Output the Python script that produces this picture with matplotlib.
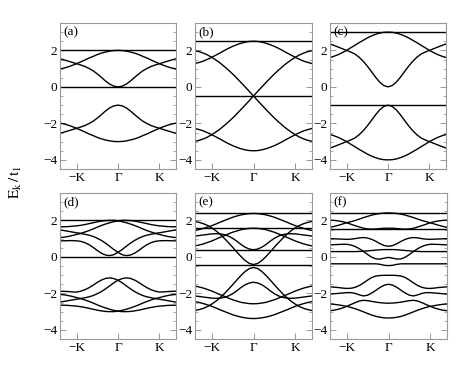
import numpy as np
import matplotlib
matplotlib.use('Agg')
import matplotlib.pyplot as plt

plt.rcParams['font.family'] = ['Liberation Serif', 'DejaVu Serif']
plt.rcParams['mathtext.fontset'] = 'stix'

# k from Gamma to the edge, in units of K (each band is drawn at +k and -k)
k_half = [0.0, 0.1, 0.2, 0.3, 0.4, 0.5, 0.6, 0.7, 0.8, 0.9, 1.0, 1.1, 1.2, 1.3, 1.4]
k_ticks = [-1, 0, 1]
k_labels = ['\u2212K', '\u0393', 'K']
panel_labels = ['(a)', '(b)', '(c)', '(d)', '(e)', '(f)']

# flat bands
a_flat = [2.0, 0.0]
b_flat = [2.5, -0.5]
c_flat = [3.0, -1.0]
d_flat = [2.0, 0.0]
e_flat = [2.38, 1.57, 0.39, -0.42]
f_flat = [2.41, 1.53]

# dispersive bands
a_bands = [
    [2.00, 1.99, 1.96, 1.91, 1.85, 1.77, 1.67, 1.58, 1.47, 1.37, 1.27, 1.18, 1.10, 1.03, 0.99],
    [0.00, 0.04, 0.15, 0.32, 0.52, 0.71, 0.88, 1.01, 1.12, 1.20, 1.27, 1.34, 1.41, 1.48, 1.54],
    [-1.00, -1.04, -1.15, -1.32, -1.52, -1.71, -1.88, -2.01, -2.12, -2.20, -2.27, -2.34, -2.41, -2.48, -2.54],
    [-3.00, -2.99, -2.96, -2.91, -2.85, -2.77, -2.67, -2.58, -2.47, -2.37, -2.27, -2.18, -2.10, -2.03, -1.99],
]
b_bands = [
    [2.50, 2.49, 2.45, 2.39, 2.31, 2.22, 2.11, 1.99, 1.86, 1.74, 1.62, 1.51, 1.41, 1.34, 1.28],
    [-0.50, -0.25, 0.00, 0.24, 0.48, 0.71, 0.92, 1.12, 1.31, 1.47, 1.62, 1.75, 1.85, 1.93, 1.98],
    [-0.50, -0.75, -1.00, -1.24, -1.48, -1.71, -1.92, -2.12, -2.31, -2.47, -2.62, -2.75, -2.85, -2.93, -2.98],
    [-3.50, -3.49, -3.45, -3.39, -3.31, -3.22, -3.11, -2.99, -2.86, -2.74, -2.62, -2.51, -2.41, -2.34, -2.28],
]
c_bands = [
    [3.00, 2.99, 2.95, 2.88, 2.79, 2.68, 2.55, 2.42, 2.28, 2.14, 2.00, 1.88, 1.77, 1.68, 1.61],
    [0.00, 0.07, 0.26, 0.53, 0.84, 1.14, 1.41, 1.63, 1.80, 1.91, 2.00, 2.09, 2.18, 2.27, 2.35],
    [-1.00, -1.07, -1.26, -1.53, -1.84, -2.14, -2.41, -2.63, -2.80, -2.91, -3.00, -3.09, -3.18, -3.27, -3.35],
    [-4.00, -3.99, -3.95, -3.88, -3.79, -3.68, -3.55, -3.42, -3.28, -3.14, -3.00, -2.88, -2.77, -2.68, -2.61],
]
d_bands = [
    [1.98, 2.00, 2.00, 1.99, 1.96, 1.92, 1.87, 1.82, 1.77, 1.73, 1.70, 1.68, 1.66, 1.65, 1.65],
    [1.97, 1.93, 1.87, 1.80, 1.72, 1.63, 1.53, 1.44, 1.36, 1.29, 1.32, 1.36, 1.40, 1.44, 1.48],
    [0.25, 0.40, 0.58, 0.75, 0.90, 1.02, 1.12, 1.19, 1.24, 1.28, 1.23, 1.17, 1.12, 1.08, 1.06],
    [0.25, 0.12, 0.07, 0.10, 0.20, 0.35, 0.52, 0.67, 0.78, 0.85, 0.88, 0.89, 0.89, 0.88, 0.88],
    [-1.28, -1.19, -1.15, -1.18, -1.27, -1.40, -1.55, -1.69, -1.80, -1.88, -1.93, -1.92, -1.90, -1.89, -1.88],
    [-1.28, -1.42, -1.59, -1.75, -1.90, -2.02, -2.12, -2.19, -2.24, -2.28, -2.23, -2.17, -2.12, -2.08, -2.06],
    [-2.97, -2.93, -2.87, -2.80, -2.72, -2.63, -2.53, -2.44, -2.36, -2.29, -2.32, -2.36, -2.40, -2.44, -2.48],
    [-2.98, -3.00, -3.00, -2.99, -2.96, -2.92, -2.87, -2.82, -2.77, -2.73, -2.70, -2.68, -2.66, -2.65, -2.65],
]
e_bands = [
    [2.38, 2.37, 2.34, 2.30, 2.24, 2.17, 2.08, 1.99, 1.90, 1.80, 1.71, 1.63, 1.56, 1.50, 1.45],
    [1.57, 1.56, 1.53, 1.49, 1.42, 1.35, 1.26, 1.16, 1.07, 0.97, 0.87, 0.79, 0.71, 0.65, 0.60],
    [0.39, 0.43, 0.53, 0.68, 0.86, 1.02, 1.14, 1.22, 1.26, 1.27, 1.26, 1.23, 1.20, 1.17, 1.14],
    [-0.42, -0.36, -0.20, 0.02, 0.27, 0.53, 0.78, 1.02, 1.24, 1.43, 1.59, 1.72, 1.82, 1.89, 1.94],
    [-1.39, -1.43, -1.53, -1.68, -1.86, -2.02, -2.14, -2.22, -2.26, -2.27, -2.26, -2.23, -2.20, -2.17, -2.14],
    [-0.58, -0.64, -0.80, -1.02, -1.27, -1.53, -1.78, -2.02, -2.24, -2.43, -2.59, -2.72, -2.82, -2.89, -2.94],
    [-2.57, -2.56, -2.53, -2.49, -2.42, -2.35, -2.26, -2.16, -2.07, -1.97, -1.87, -1.79, -1.71, -1.65, -1.60],
    [-3.38, -3.37, -3.34, -3.30, -3.24, -3.17, -3.08, -2.99, -2.90, -2.80, -2.71, -2.63, -2.56, -2.50, -2.45],
]
f_bands = [
    [2.41, 2.40, 2.38, 2.34, 2.29, 2.22, 2.15, 2.07, 1.99, 1.93, 1.87, 1.80, 1.73, 1.67, 1.62],
    [1.57, 1.57, 1.55, 1.53, 1.52, 1.53, 1.57, 1.64, 1.71, 1.79, 1.87, 1.93, 1.97, 2.00, 2.01],
    [0.58, 0.62, 0.72, 0.85, 0.96, 1.03, 1.06, 1.04, 1.00, 0.97, 0.96, 0.97, 0.98, 0.99, 1.00],
    [0.40, 0.40, 0.39, 0.37, 0.35, 0.33, 0.31, 0.30, 0.29, 0.29, 0.29, 0.29, 0.29, 0.29, 0.29],
    [-0.03, -0.07, -0.12, -0.11, -0.02, 0.13, 0.30, 0.45, 0.57, 0.65, 0.69, 0.69, 0.68, 0.67, 0.66],
    [-0.48, -0.46, -0.41, -0.38, -0.38, -0.38, -0.38, -0.38, -0.38, -0.38, -0.38, -0.38, -0.38, -0.38, -0.38],
    [-1.01, -1.01, -1.02, -1.05, -1.13, -1.27, -1.43, -1.57, -1.67, -1.72, -1.73, -1.71, -1.68, -1.66, -1.64],
    [-1.50, -1.55, -1.67, -1.83, -1.98, -2.10, -2.14, -2.08, -2.00, -1.96, -1.96, -1.98, -2.00, -2.02, -2.04],
    [-2.54, -2.53, -2.51, -2.48, -2.44, -2.40, -2.38, -2.42, -2.51, -2.61, -2.71, -2.80, -2.87, -2.92, -2.95],
    [-3.35, -3.34, -3.31, -3.26, -3.19, -3.10, -3.01, -2.92, -2.84, -2.77, -2.71, -2.67, -2.63, -2.60, -2.58],
]

flats = [a_flat, b_flat, c_flat, d_flat, e_flat, f_flat]
bands = [a_bands, b_bands, c_bands, d_bands, e_bands, f_bands]

# axes boxes in pixels: left, right, top, bottom
boxes = [(60, 176, 23, 169), (195, 312, 23, 169), (330, 446, 23, 169),
         (60, 176, 193, 339), (195, 312, 193, 339), (330, 447, 193, 339)]

W, H = 463, 377
fig = plt.figure(figsize=(W / 100, H / 100), dpi=100)

k = np.array(k_half)
for i in range(6):
    l, r, t, b = boxes[i]
    ax = fig.add_axes([l / W, 1 - b / H, (r - l) / W, (b - t) / H])
    for y in flats[i]:
        ax.axhline(y, color='black', lw=1.0)
    for band in bands[i]:
        e = np.array(band)
        ax.plot(np.concatenate([-k[::-1], k[1:]]), np.concatenate([e[::-1], e[1:]]),
                color='black', lw=1.0)
    ax.set_xlim(-1.4, 1.4)
    ax.set_ylim(-4.5, 3.5)
    ax.set_xticks(k_ticks)
    ax.set_xticklabels(k_labels)
    ax.set_yticks([-4, -2, 0, 2])
    ax.set_yticklabels(['\u22124', '\u22122', '0', '2'])
    ax.set_yticks(np.arange(-4.5, 3.6, 0.5), minor=True)
    ax.tick_params(which='both', direction='in', right=True, top=False, color='#888888',
                   labelsize=9.5, pad=2)
    ax.tick_params(which='major', length=4, width=0.6)
    ax.tick_params(which='minor', length=2, width=0.5)
    for s in ax.spines.values():
        s.set_color('#999999')
        s.set_linewidth(0.8)
    ax.text(0.03, 0.975, panel_labels[i], transform=ax.transAxes, fontsize=9.5,
            va='top', ha='left')

fig.text(16 / W, 1 - 182 / H, r'$\mathrm{E_k\,/\,t_1}$', rotation=90, fontsize=11,
         ha='center', va='center')

plt.savefig('out.png', dpi=100)
